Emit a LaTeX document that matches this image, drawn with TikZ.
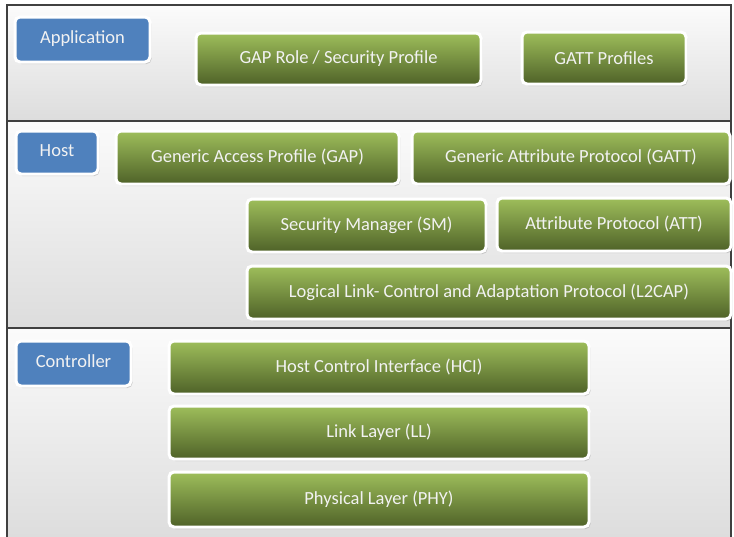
\documentclass[tikz,border=0pt]{standalone}
\usepackage{fontspec}
\setmainfont{Carlito}
\usetikzlibrary{shadows}
\definecolor{gtop}{HTML}{9EBE5B}
\definecolor{gbot}{HTML}{4F6228}
\definecolor{blu}{HTML}{4F81BD}
\definecolor{txt}{HTML}{F2F2F2}
\definecolor{frame}{HTML}{404040}
\tikzset{
  panel/.style={top color=gray!3, bottom color=gray!27, draw=frame, line width=1.2pt},
  greenbox/.style={rounded corners=5pt, top color=gtop, bottom color=gbot, draw=white, line width=3pt,
    text=txt, font=\fontsize{18.5}{22}\selectfont, inner sep=0pt,
    drop shadow={shadow xshift=1.5pt, shadow yshift=-2pt, opacity=0.35}},
  bluebox/.style={rounded corners=5pt, fill=blu, draw=white, line width=3pt,
    text=txt, font=\fontsize{18.5}{22}\selectfont, inner sep=0pt,
    drop shadow={shadow xshift=1.5pt, shadow yshift=-2pt, opacity=0.35}},
}
\begin{document}
\begin{tikzpicture}[x=1pt,y=-1pt]
\useasboundingbox (0,0) rectangle (734,536);
% panels
\path[panel] (7,5) rectangle (731,121);
\path[panel] (7,121) rectangle (731,328);
\path[panel] (7,328) rectangle (731,540);
\draw[frame, line width=2.6pt] (7,328) -- (731,328);
% application
\node[bluebox, minimum width=135pt, minimum height=45pt] (app) at (82.5,39.5) {\raisebox{5pt}{Application}};
\node[greenbox, minimum width=285pt, minimum height=52pt] (gaprole) at (338.5,59) {GAP Role / Security Profile};
\node[greenbox, minimum width=164pt, minimum height=52pt] (gattprof) at (604,58) {GATT Profiles};
% host
\node[bluebox, minimum width=82pt, minimum height=43pt] (host) at (57,152.5) {\raisebox{4pt}{Host}};
\node[greenbox, minimum width=283pt, minimum height=53pt] (gap) at (257.5,157.5) {Generic Access Profile (GAP)};
\node[greenbox, minimum width=318pt, minimum height=53pt] (gatt) at (571,157.5) {Generic Attribute Protocol (GATT)};
\node[greenbox, minimum width=239pt, minimum height=53pt] (sm) at (366.5,225.5) {Security Manager (SM)};
\node[greenbox, minimum width=234pt, minimum height=53pt] (att) at (614,224.5) {Attribute Protocol (ATT)};
\node[greenbox, minimum width=484pt, minimum height=53pt] (l2cap) at (489,292.5) {Logical Link- Control and Adaptation Protocol (L2CAP)};
% controller
\node[bluebox, minimum width=115pt, minimum height=45pt] (ctrl) at (73.5,363.5) {\raisebox{4pt}{Controller}};
\node[greenbox, minimum width=420pt, minimum height=53pt] (hci) at (379,367.5) {Host Control Interface (HCI)};
\node[greenbox, minimum width=420pt, minimum height=53pt] (ll) at (379,432.5) {Link Layer (LL)};
\node[greenbox, minimum width=420pt, minimum height=55pt] (phy) at (379,499.5) {Physical Layer (PHY)};
\end{tikzpicture}
\end{document}
